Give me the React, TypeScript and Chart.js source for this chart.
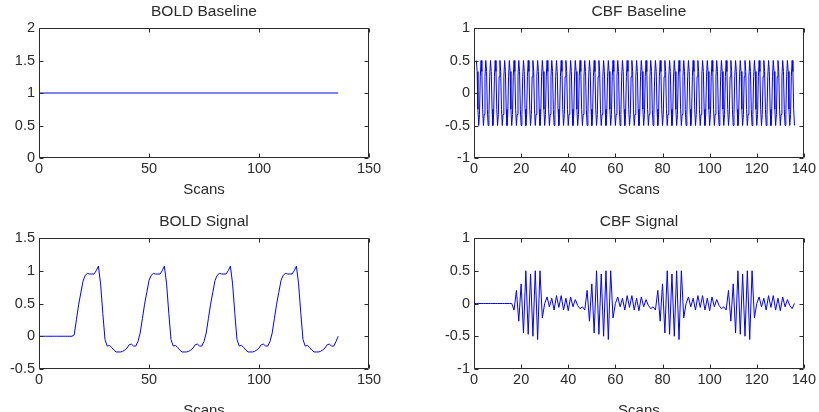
import React, { useEffect, useRef } from 'react';
import { Chart, registerables } from 'chart.js';

Chart.register(...registerables);

// ---------- data ----------
const boldBaselineScans = [0, 136];
const boldBaselineValues = [1, 1];

// scans 0..136 for the signal series
const signalScans = Array.from({ length: 137 }, (_, i) => i);

const boldSignalValues = [
  // 0..15 before first block
  0, 0, 0, 0, 0, 0, 0, 0, 0, 0, 0, 0, 0, 0, 0, 0,
  // 16..45
  0.02, 0.25, 0.48, 0.66, 0.84, 0.93, 0.96, 0.95, 0.95, 0.95, 1.0, 1.07, 0.8, 0.35, -0.05,
  -0.15, -0.14, -0.17, -0.21, -0.24, -0.24, -0.24, -0.23, -0.21, -0.18, -0.13, -0.12, -0.15, -0.15, -0.08,
  // 46..75
  0.05, 0.27, 0.49, 0.67, 0.85, 0.93, 0.96, 0.95, 0.95, 0.95, 1.0, 1.07, 0.8, 0.35, -0.05,
  -0.15, -0.14, -0.17, -0.21, -0.24, -0.24, -0.24, -0.23, -0.21, -0.18, -0.13, -0.12, -0.15, -0.15, -0.08,
  // 76..105
  0.05, 0.27, 0.49, 0.67, 0.85, 0.93, 0.96, 0.95, 0.95, 0.95, 1.0, 1.07, 0.8, 0.35, -0.05,
  -0.15, -0.14, -0.17, -0.21, -0.24, -0.24, -0.24, -0.23, -0.21, -0.18, -0.13, -0.12, -0.15, -0.15, -0.08,
  // 106..135
  0.05, 0.27, 0.49, 0.67, 0.85, 0.93, 0.96, 0.95, 0.95, 0.95, 1.0, 1.07, 0.8, 0.35, -0.05,
  -0.15, -0.14, -0.17, -0.21, -0.24, -0.24, -0.24, -0.23, -0.21, -0.18, -0.13, -0.12, -0.15, -0.15, -0.08,
  // 136
  0.0,
];

const cbfSignalValues = [
  // 0..15
  0, 0, 0, 0, 0, 0, 0, 0, 0, 0, 0, 0, 0, 0, 0, 0,
  // 16..29 on, 30..45 off
  0.0, -0.1, 0.2, -0.27, 0.3, -0.45, 0.5, -0.47, 0.45, -0.5, 0.5, -0.55, 0.5, -0.22,
  0.0, 0.1, -0.05, 0.08, -0.1, 0.12, -0.06, 0.12, -0.1, 0.08, -0.11, 0.1, -0.05, 0.06, -0.03, -0.08,
  // 46..75
  -0.05, -0.1, 0.2, -0.27, 0.3, -0.45, 0.5, -0.47, 0.45, -0.5, 0.5, -0.55, 0.5, -0.22,
  0.0, 0.1, -0.05, 0.08, -0.1, 0.12, -0.06, 0.12, -0.1, 0.08, -0.11, 0.1, -0.05, 0.06, -0.03, -0.08,
  // 76..105
  -0.05, -0.1, 0.2, -0.27, 0.3, -0.45, 0.5, -0.47, 0.45, -0.5, 0.5, -0.55, 0.5, -0.22,
  0.0, 0.1, -0.05, 0.08, -0.1, 0.12, -0.06, 0.12, -0.1, 0.08, -0.11, 0.1, -0.05, 0.06, -0.03, -0.08,
  // 106..135
  -0.05, -0.1, 0.2, -0.27, 0.3, -0.45, 0.5, -0.47, 0.45, -0.5, 0.5, -0.55, 0.5, -0.22,
  0.0, 0.1, -0.05, 0.08, -0.1, 0.12, -0.06, 0.12, -0.1, 0.08, -0.11, 0.1, -0.05, 0.06, -0.03, -0.08,
  // 136
  0.0,
];

const cbfBaselineCycle = [0.5, 0.33, -0.25, -0.5, -0.33, 0.25];
const cbfBaselineStart = 1;
const cbfBaselineEnd = 136;
const cbfBaselineSamplesPerScan = 3;
const cbfBaselineScans: number[] = [];
const cbfBaselineValues: number[] = [];
for (let k = 0; k <= (cbfBaselineEnd - cbfBaselineStart) * cbfBaselineSamplesPerScan; k++) {
  cbfBaselineScans.push(cbfBaselineStart + k / cbfBaselineSamplesPerScan);
  cbfBaselineValues.push(cbfBaselineCycle[k % cbfBaselineCycle.length]);
}

// axis ranges: [min, max, step]
const boldBaselineXTicks = [0, 150, 50];
const boldBaselineYTicks = [0, 2, 0.5];
const cbfXTicks = [0, 140, 20];
const cbfYTicks = [-1, 1, 0.5];
const boldSignalYTicks = [-0.5, 1.5, 0.5];

// ---------- styling ----------
const FONT = "'Liberation Sans', Arial, Helvetica, sans-serif";
const INK = '#2b2b2b';
const LINE = '#0000ff';

const fmt = (v: any) => String(Number(Number(v).toFixed(3)));

const frameTicks = {
  id: 'frameTicks',
  afterDatasetsDraw(chart: any) {
    const { ctx, chartArea } = chart;
    const { left, right, top, bottom } = chartArea;
    const xs = chart.scales.x;
    const ys = chart.scales.y;
    const L = Math.round(left) + 0.5;
    const R = Math.round(right) - 0.5;
    const T = Math.round(top) + 0.5;
    const B = Math.round(bottom) - 0.5;
    const len = 4;
    ctx.save();
    ctx.strokeStyle = INK;
    ctx.lineWidth = 1;
    ctx.beginPath();
    ctx.moveTo(L, T);
    ctx.lineTo(R, T);
    ctx.lineTo(R, B);
    ctx.lineTo(L, B);
    ctx.closePath();
    for (const t of xs.ticks) {
      const px = Math.round(xs.getPixelForValue(t.value)) + 0.5;
      ctx.moveTo(px, B);
      ctx.lineTo(px, B - len);
      ctx.moveTo(px, T);
      ctx.lineTo(px, T + len);
    }
    for (const t of ys.ticks) {
      const py = Math.round(ys.getPixelForValue(t.value)) + 0.5;
      ctx.moveTo(L, py);
      ctx.lineTo(L + len, py);
      ctx.moveTo(R, py);
      ctx.lineTo(R - len, py);
    }
    ctx.stroke();
    ctx.restore();
  },
};

type PanelProps = {
  left: number;
  top: number;
  width: number;
  height: number;
  title: string;
  xs: number[];
  ys: number[];
  xTicks: number[];
  yTicks: number[];
  yAxisWidth: number;
  padRight: number;
  titlePadTop: number;
  titlePadBottom: number;
  xAxisHeight: number;
  xTitlePadBottom: number;
};

function Panel(p: PanelProps) {
  const ref = useRef<HTMLCanvasElement | null>(null);
  useEffect(() => {
    if (!ref.current) return;
    const points = p.xs.map((x, i) => ({ x, y: p.ys[i] }));
    const chart = new Chart(ref.current, {
      type: 'line',
      data: {
        datasets: [
          {
            data: points,
            borderColor: LINE,
            borderWidth: 1,
            pointRadius: 0,
            fill: false,
            tension: 0,
          },
        ],
      },
      options: {
        animation: false,
        responsive: false,
        devicePixelRatio: 1,
        parsing: false as any,
        layout: { padding: { left: 0, right: p.padRight, top: 0, bottom: 0 } },
        plugins: {
          legend: { display: false },
          tooltip: { enabled: false },
          title: {
            display: true,
            text: p.title,
            fullSize: false,
            color: INK,
            font: { family: FONT, size: 15.5, weight: 'normal', lineHeight: '18px' } as any,
            padding: { top: p.titlePadTop, bottom: p.titlePadBottom },
          },
        },
        scales: {
          x: {
            type: 'linear',
            min: p.xTicks[0],
            max: p.xTicks[1],
            grid: { display: false, drawTicks: false },
            border: { display: false },
            ticks: {
              stepSize: p.xTicks[2],
              autoSkip: false,
              maxRotation: 0,
              color: INK,
              padding: 3,
              callback: fmt,
              font: { family: FONT, size: 14.5, lineHeight: '16px' } as any,
            },
            title: {
              display: true,
              text: 'Scans',
              color: INK,
              font: { family: FONT, size: 15, lineHeight: '18px' } as any,
              padding: { top: 0, bottom: p.xTitlePadBottom },
            },
            afterFit: (s: any) => {
              s.height = p.xAxisHeight;
            },
          },
          y: {
            type: 'linear',
            min: p.yTicks[0],
            max: p.yTicks[1],
            grid: { display: false, drawTicks: false },
            border: { display: false },
            ticks: {
              stepSize: p.yTicks[2],
              autoSkip: false,
              color: INK,
              padding: 4,
              callback: fmt,
              font: { family: FONT, size: 14.5 } as any,
            },
            afterFit: (s: any) => {
              s.width = p.yAxisWidth;
            },
          },
        },
      },
      plugins: [frameTicks],
    });
    return () => chart.destroy();
  }, []);
  return (
    <canvas
      ref={ref}
      width={p.width}
      height={p.height}
      style={{ position: 'absolute', left: p.left, top: p.top, width: p.width, height: p.height }}
    />
  );
}

export default function App() {
  return (
    <div style={{ position: 'absolute', left: 0, top: 0, width: 819, height: 412, background: '#fff', overflow: 'hidden' }}>
      <Panel
        left={0} top={0} width={410} height={206}
        title="BOLD Baseline"
        xs={boldBaselineScans} ys={boldBaselineValues}
        xTicks={boldBaselineXTicks} yTicks={boldBaselineYTicks}
        yAxisWidth={39} padRight={41} titlePadTop={3} titlePadBottom={7}
        xAxisHeight={48} xTitlePadBottom={7}
      />
      <Panel
        left={410} top={0} width={409} height={206}
        title="CBF Baseline"
        xs={cbfBaselineScans} ys={cbfBaselineValues}
        xTicks={cbfXTicks} yTicks={cbfYTicks}
        yAxisWidth={64} padRight={14} titlePadTop={3} titlePadBottom={7}
        xAxisHeight={48} xTitlePadBottom={7}
      />
      <Panel
        left={0} top={206} width={410} height={206}
        title="BOLD Signal"
        xs={signalScans} ys={boldSignalValues}
        xTicks={boldBaselineXTicks} yTicks={boldSignalYTicks}
        yAxisWidth={39} padRight={41} titlePadTop={7} titlePadBottom={7}
        xAxisHeight={43} xTitlePadBottom={-8}
      />
      <Panel
        left={410} top={206} width={409} height={206}
        title="CBF Signal"
        xs={signalScans} ys={cbfSignalValues}
        xTicks={cbfXTicks} yTicks={cbfYTicks}
        yAxisWidth={64} padRight={14} titlePadTop={7} titlePadBottom={7}
        xAxisHeight={43} xTitlePadBottom={-8}
      />
    </div>
  );
}
